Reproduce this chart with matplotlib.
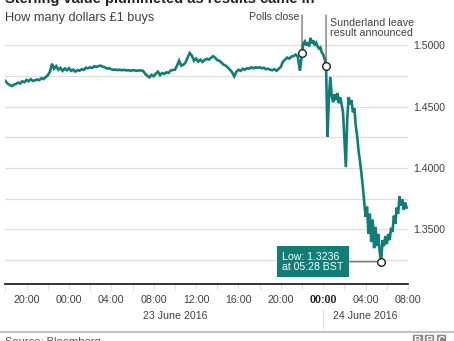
import numpy as np
import pandas as pd
import matplotlib
matplotlib.use("Agg")
import matplotlib.pyplot as plt
import matplotlib.transforms as mtransforms
from matplotlib.patches import Rectangle
from matplotlib.lines import Line2D

plt.rcParams["font.family"] = ["Liberation Sans", "DejaVu Sans"]

# GBP/USD, 12-minute bars from 18:00 on 22 June to 21:48 on 23 June
day_rates = [
    1.4711, 1.4690, 1.4678, 1.4669, 1.4680,
    1.4686, 1.4697, 1.4690, 1.4708, 1.4700,
    1.4719, 1.4708, 1.4725, 1.4711, 1.4716,
    1.4723, 1.4717, 1.4733, 1.4726, 1.4741,
    1.4756, 1.4785, 1.4851, 1.4810, 1.4831,
    1.4802, 1.4818, 1.4793, 1.4812, 1.4798,
    1.4814, 1.4793, 1.4803, 1.4787, 1.4799,
    1.4794, 1.4806, 1.4801, 1.4818, 1.4814,
    1.4822, 1.4817, 1.4831, 1.4825, 1.4832,
    1.4835, 1.4826, 1.4822, 1.4811, 1.4815,
    1.4806, 1.4802, 1.4803, 1.4799, 1.4802,
    1.4798, 1.4801, 1.4797, 1.4798, 1.4794,
    1.4798, 1.4797, 1.4793, 1.4797, 1.4796,
    1.4792, 1.4769, 1.4752, 1.4740, 1.4760,
    1.4749, 1.4770, 1.4786, 1.4758, 1.4775,
    1.4768, 1.4781, 1.4776, 1.4795, 1.4800,
    1.4802, 1.4835, 1.4876, 1.4835, 1.4843,
    1.4860, 1.4901, 1.4938, 1.4917, 1.4876,
    1.4893, 1.4868, 1.4884, 1.4866, 1.4880,
    1.4891, 1.4884, 1.4899, 1.4912, 1.4900,
    1.4880, 1.4876, 1.4860, 1.4843, 1.4835,
    1.4818, 1.4802, 1.4781, 1.4748, 1.4785,
    1.4802, 1.4793, 1.4810, 1.4802, 1.4814,
    1.4810, 1.4822, 1.4814, 1.4822, 1.4818,
    1.4822, 1.4814, 1.4818, 1.4806, 1.4810,
    1.4802, 1.4798, 1.4806, 1.4793, 1.4810,
    1.4826, 1.4868, 1.4884, 1.4901, 1.4893,
    1.4909, 1.4913, 1.4926, 1.4909, 1.4793,
]

# GBP/USD, 8-minute bars through results night, 22:00 on 23 June to 07:52 on 24 June
night_rates = [
    1.4940, 1.5017, 1.5033, 1.5000, 1.5025, 1.4992, 1.5062, 1.5017, 1.5041, 1.5000,
    1.5021, 1.4992, 1.4975, 1.4983, 1.4942, 1.4926, 1.4888, 1.4835, 1.4256, 1.4570,
    1.4744, 1.4587, 1.4537, 1.4603, 1.4554, 1.4612, 1.4529, 1.4579, 1.4521, 1.4455,
    1.4223, 1.4008, 1.4405, 1.4579, 1.4521, 1.4554, 1.4455, 1.4488, 1.4347, 1.4264,
    1.4140, 1.4058, 1.3959, 1.3851, 1.3727, 1.3603, 1.3686, 1.3463, 1.3628, 1.3397,
    1.3579, 1.3347, 1.3521, 1.3364, 1.3463, 1.3314, 1.3236, 1.3413, 1.3364, 1.3446,
    1.3380, 1.3463, 1.3413, 1.3512, 1.3479, 1.3612, 1.3545, 1.3678, 1.3628, 1.3769,
    1.3694, 1.3744, 1.3661, 1.3719, 1.3678,
]

tick_times = pd.date_range("2016-06-22 20:00", "2016-06-24 08:00", freq="4h")
tick_labels = ["20:00", "00:00", "04:00", "08:00", "12:00",
               "16:00", "20:00", "00:00", "04:00", "08:00"]
grid_values = [1.325, 1.350, 1.375, 1.400, 1.425, 1.450, 1.475, 1.500]
labelled_values = [1.350, 1.400, 1.450, 1.500]

polls_close_time = pd.Timestamp("2016-06-23 22:00")
sunderland_time = pd.Timestamp("2016-06-24 00:16")
low_time = pd.Timestamp("2016-06-24 05:28")
low_value = 1.3236

TEAL = "#117d76"
TEXT = "#404040"

day_times = pd.date_range("2016-06-22 18:00", periods=len(day_rates), freq="12min")
night_times = pd.date_range("2016-06-23 22:00", periods=len(night_rates), freq="8min")
rates = pd.concat([pd.Series(day_rates, index=day_times),
                   pd.Series(night_rates, index=night_times)])

W, H = 454, 341
fig = plt.figure(figsize=(W / 100, H / 100), dpi=100)
fig.patch.set_facecolor("white")

ax_left, ax_right, ax_top, ax_bottom = 5, 408, 30, 284
ax = fig.add_axes([ax_left / W, 1 - ax_bottom / H,
                   (ax_right - ax_left) / W, (ax_bottom - ax_top) / H])

ax.plot(rates.index, rates.values, color=TEAL, lw=1.9, solid_joinstyle="miter",
        zorder=3)

ax.set_xlim(pd.Timestamp("2016-06-22 17:58"), pd.Timestamp("2016-06-24 07:52"))
ax.set_ylim(1.3055, 1.5126)

# horizontal gridlines, labels on the right every 0.05
ax.yaxis.tick_right()
ax.set_yticks(grid_values)
ax.set_yticklabels([f"{v:.4f}" if v in labelled_values else "" for v in grid_values])
ax.grid(axis="y", color="#dedede", lw=0.9)
ax.tick_params(axis="y", length=0, pad=4, labelsize=7.6, labelcolor=TEXT)
ax.set_axisbelow(True)

# hour labels every 4 hours, faint tick marks every 2 hours
ax.set_xticks(tick_times)
ax.set_xticklabels(tick_labels)
ax.set_xticks(pd.date_range("2016-06-22 18:00", "2016-06-24 06:00", freq="2h"),
              minor=True)
ax.tick_params(axis="x", which="both", length=4, width=0.8, color="#e2e2e2",
               direction="out")
ax.tick_params(axis="x", which="major", pad=4, labelsize=7.7, labelcolor=TEXT)
ax.get_xticklabels()[7].set_fontweight("bold")
ax.get_xticklabels()[7].set_color("#222222")

for side in ("top", "left", "right"):
    ax.spines[side].set_visible(False)
ax.spines["bottom"].set_color("#111111")
ax.spines["bottom"].set_linewidth(1.2)

# date captions below the hour labels
date_tr = mtransforms.blended_transform_factory(ax.transData, fig.transFigure)
ax.text(pd.Timestamp("2016-06-23 10:00"), 1 - 316 / H, "23 June 2016",
        transform=date_tr, ha="center", va="center", fontsize=7.7, color=TEXT)
ax.text(pd.Timestamp("2016-06-24 04:00"), 1 - 316 / H, "24 June 2016",
        transform=date_tr, ha="center", va="center", fontsize=7.7, color=TEXT)
midnight = pd.Timestamp("2016-06-24 00:00")
ax.plot([midnight, midnight], [1 - 328 / H, 1 - 310 / H], color="#e0e0e0", lw=0.8,
        transform=date_tr, clip_on=False)

# event markers
polls_value = rates.loc[polls_close_time]
sunderland_value = rates.loc[sunderland_time]
lead_top = (ax_bottom - 15) / (ax_bottom - ax_top)
for t, v in ((polls_close_time, polls_value), (sunderland_time, sunderland_value)):
    ax.annotate("", xy=(t, v), xycoords="data", xytext=(t, lead_top),
                textcoords=("data", "axes fraction"),
                arrowprops=dict(arrowstyle="-", color="#555555", lw=0.8,
                                shrinkA=0, shrinkB=0), zorder=4, annotation_clip=False)
    ax.plot([t], [v], "o", ms=5.5, mfc="white", mec="#222222", mew=1.0, zorder=5,
            clip_on=False)

ax.annotate("Polls close", xy=(polls_close_time, (ax_bottom - 17) / (ax_bottom - ax_top)),
            xycoords=("data", "axes fraction"), xytext=(-2, 0), textcoords="offset points",
            ha="right", va="center", fontsize=7.6, color=TEXT, annotation_clip=False)
ax.annotate("Sunderland leave\nresult announced",
            xy=(sunderland_time, (ax_bottom - 28) / (ax_bottom - ax_top)),
            xycoords=("data", "axes fraction"), xytext=(3, 0), textcoords="offset points",
            ha="left", va="center", fontsize=7.7, color=TEXT, linespacing=1.0,
            annotation_clip=False)

# low point callout
ax.annotate(f"Low: {low_value:.4f}\nat {low_time:%H:%M} BST", xy=(low_time, low_value),
            xycoords="data", xytext=(-27, 0), textcoords="offset points",
            ha="right", va="center", multialignment="left", fontsize=7.6,
            color="white", linespacing=1.05,
            bbox=dict(boxstyle="square,pad=0.5", fc=TEAL, ec="none"),
            arrowprops=dict(arrowstyle="-", color="#555555", lw=0.8,
                            shrinkA=0, shrinkB=3), zorder=6)
ax.plot([low_time], [low_value], "o", ms=5.5, mfc="white", mec="#222222", mew=1.0,
        zorder=7)

# headings
fig.text(5 / W, 1 - 3 / H, "Sterling value plummeted as results came in",
         ha="left", va="baseline", fontsize=10.5, fontweight="bold", color="#222222")
fig.text(5 / W, 1 - 21.5 / H, "How many dollars £1 buys", ha="left", va="baseline",
         fontsize=9.2, color=TEXT)

# footer
fig.add_artist(Line2D([0, 1], [1 - 331.5 / H, 1 - 331.5 / H], color="#c4c4c4", lw=1.6,
                      transform=fig.transFigure))
fig.text(5 / W, 1 - 345 / H, "Source: Bloomberg", ha="left", va="baseline",
         fontsize=8, color="#555555")
for i, letter in enumerate("BBC"):
    x0 = 413 + i * 11.8
    fig.add_artist(Rectangle((x0 / W, 1 - 345 / H), 8.6 / W, 10 / H, color="#8a8a8a",
                             transform=fig.transFigure))
    fig.text((x0 + 4.3) / W, 1 - 343.5 / H, letter, ha="center", va="baseline",
             fontsize=7.5, fontweight="bold", color="white")

fig.savefig("out.png", dpi=100, facecolor="white")
